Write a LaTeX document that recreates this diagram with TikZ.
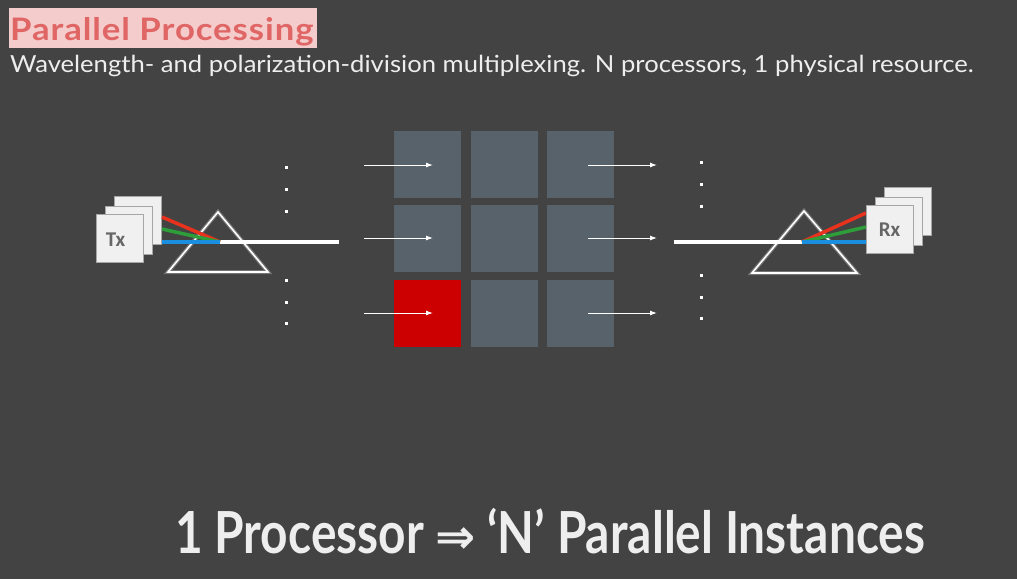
\documentclass[tikz,border=0pt]{standalone}
\usepackage{fontspec}
\setmainfont{Lato}
\newfontfamily\boxfont{Carlito}
\newfontfamily\symfont{DejaVu Sans}
\newfontfamily\bigfont[FakeStretch=0.825]{Lato}
\newfontfamily\titlefont[FakeStretch=1.12,LetterSpace=3]{Lato}
\newfontfamily\subfont[FakeStretch=1.09]{Lato}
\usetikzlibrary{arrows.meta}
\definecolor{bg}{HTML}{434343}
\definecolor{titlebg}{HTML}{F4CCCC}
\definecolor{titlered}{HTML}{E06666}
\definecolor{txtw}{HTML}{EEEEEE}
\definecolor{slate}{HTML}{57626A}
\definecolor{cellred}{HTML}{CC0000}
\definecolor{rayred}{HTML}{E8321E}
\definecolor{raygreen}{HTML}{2E9E3A}
\definecolor{rayblue}{HTML}{1A8FE0}
\definecolor{boxw}{HTML}{F0F0F0}
\definecolor{labgray}{HTML}{666666}
\tikzset{
  cell/.style={fill=slate, draw=none, minimum width=67pt, minimum height=67pt, inner sep=0pt},
  redcell/.style={cell, fill=cellred},
  card/.style={fill=boxw, draw=gray!70, line width=0.6pt, minimum width=47pt, minimum height=48pt, inner sep=0pt, text=labgray, font=\boxfont\bfseries\fontsize{21}{21}\selectfont},
  vdot/.style={fill=white, minimum size=3pt, inner sep=0pt},
  arr/.style={white, line width=1pt, -{Latex[length=7pt,width=5pt]}},
  ray/.style={line width=3.5pt},
  prismglow/.style={gray!70, line width=4pt, opacity=0.5, line join=miter},
  prismedge/.style={white, line width=1.6pt, line join=miter},
}
\begin{document}
\begin{tikzpicture}[x=1pt,y=-1pt]
\fill[bg] (0,0) rectangle (1017,579);
\useasboundingbox (0,0) rectangle (1017,579);

% title
\node (titlebox) [fill=titlebg, minimum width=308pt, minimum height=40pt, inner sep=0pt, anchor=north west] at (9,8) {};
\node (title) [text=titlered, font=\titlefont\bfseries\fontsize{31}{31}\selectfont, inner sep=0pt, anchor=base west] at (10,40) {Parallel Processing};
\node (sub) [text=txtw, font=\subfont\fontsize{23.5}{23.5}\selectfont, anchor=base west, inner sep=0pt] at (10,72) {Wavelength- and polarization-division multiplexing. N processors, 1 physical resource.};

% grid
\foreach \c/\x in {1/427.5,2/504.5,3/580.5}{
  \foreach \r/\y in {1/164.5,2/238.5}{
    \node (c\r\c) [cell] at (\x,\y) {};
  }
}
\node (c31) [redcell] at (427.5,313.5) {};
\node (c32) [cell] at (504.5,313.5) {};
\node (c33) [cell] at (580.5,313.5) {};

% arrows in and out
\foreach \r/\y in {1/165,2/238,3/313}{
  \coordinate (ia\r) at (364,\y);
  \coordinate (ib\r) at (433,\y);
  \coordinate (oa\r) at (588,\y);
  \coordinate (ob\r) at (657,\y);
  \draw[arr] (ia\r) -- (ib\r);
  \draw[arr] (oa\r) -- (ob\r);
}

% dots
\foreach \i/\y in {1/167,2/189,3/211,4/280,5/302,6/323}{
  \node (ld\i) [vdot] at (286,\y) {};
}
\foreach \i/\y in {1/162,2/184,3/206,4/275,5/297,6/318}{
  \node (rd\i) [vdot] at (701,\y) {};
}

% left prism
\coordinate (lpA) at (218,212);
\coordinate (lpB) at (168,272);
\coordinate (lpC) at (268,272);
\draw[prismglow] (lpA) -- (lpB) -- (lpC) -- cycle;
\draw[prismedge] (lpA) -- (lpB) -- (lpC) -- cycle;

% Tx cards
\node (tx3) [card] at (138,220) {};
\node (tx2) [card] at (129,230) {};
\node (tx1) [card] at (119.5,238) {};
\node (txl) [text=labgray, font=\boxfont\bfseries\fontsize{21}{21}\selectfont, inner sep=0pt] at (115.5,240) {Tx};

% left rays
\coordinate (lsR) at (162,217);
\coordinate (lsG) at (162,229);
\coordinate (lsB) at (162,242);
\coordinate (lf) at (220,242);
\coordinate (le) at (339,242);
\draw[ray, white] (lf) -- (le);
\draw[ray, rayred] (lsR) -- (lf);
\draw[ray, raygreen] (lsG) -- (lf);
\draw[ray, rayblue] (lsB) -- (lf);

% right prism
\coordinate (rpA) at (804,211);
\coordinate (rpB) at (752,273);
\coordinate (rpC) at (857,273);
\draw[prismglow] (rpA) -- (rpB) -- (rpC) -- cycle;
\draw[prismedge] (rpA) -- (rpB) -- (rpC) -- cycle;

% right rays
\coordinate (rs) at (674,242);
\coordinate (rf) at (802,242);
\coordinate (reR) at (866,213);
\coordinate (reG) at (866,227);
\coordinate (reB) at (866,242);
\draw[ray, white] (rs) -- (rf);
\draw[ray, rayred] (rf) -- (reR);
\draw[ray, raygreen] (rf) -- (reG);
\draw[ray, rayblue] (rf) -- (reB);

% Rx cards
\node (rx3) [card] at (908,211) {};
\node (rx2) [card] at (898.5,221) {};
\node (rx1) [card] at (889.5,229.5) {Rx};

% bottom statement
\node (big) [text=txtw, font=\bigfont\bfseries\fontsize{58}{58}\selectfont, anchor=base, inner sep=0pt] at (550,553) {1 Processor {\symfont\bfseries\fontsize{48}{48}\selectfont ⇒} ‘N’ Parallel Instances};
\end{tikzpicture}
\end{document}
